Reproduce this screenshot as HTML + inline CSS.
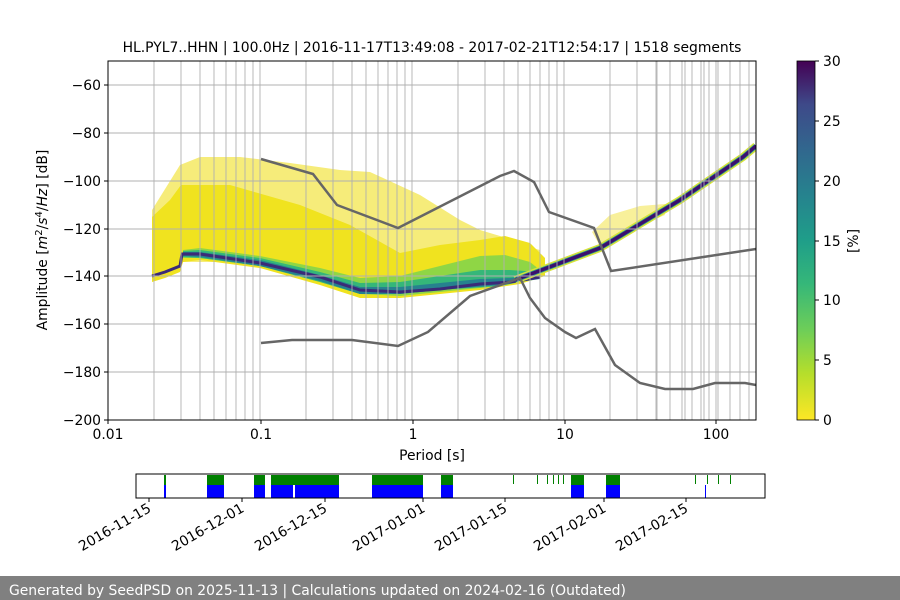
<!DOCTYPE html>
<html><head><meta charset="utf-8"><style>
body{margin:0;background:#fff;}
svg{display:block;font-family:"DejaVu Sans","Liberation Sans",sans-serif;}
</style></head><body>
<svg width="900" height="600" viewBox="0 0 900 600" xmlns="http://www.w3.org/2000/svg">
<defs>
<linearGradient id="cb" x1="0" y1="1" x2="0" y2="0">
<stop offset="0" stop-color="#fde725"/><stop offset="0.13" stop-color="#b5de2b"/><stop offset="0.25" stop-color="#6ece58"/><stop offset="0.38" stop-color="#35b779"/><stop offset="0.5" stop-color="#1f9e89"/><stop offset="0.63" stop-color="#26828e"/><stop offset="0.75" stop-color="#31688e"/><stop offset="0.88" stop-color="#3e4989"/><stop offset="1" stop-color="#440154"/>
</linearGradient>
<clipPath id="ax"><rect x="108" y="61" width="648" height="359"/></clipPath>
</defs>
<text x="432" y="52" font-size="13.9" text-anchor="middle">HL.PYL7..HHN | 100.0Hz | 2016-11-17T13:49:08 - 2017-02-21T12:54:17 | 1518 segments</text>
<g clip-path="url(#ax)">
<polygon fill="#f6ec7a" points="152,210 180,165 200,157 240,157 290,163 340,170 370,172 420,195 460,220 480,230 500,236 520,245 540,250 540,262 505,262 400,262 300,262 152,262"/>
<polygon fill="#f8f09a" points="592,232 610,215 640,206 665,204 665,215 630,230 600,246"/>
<polygon fill="#f0e31f" points="152,217 170,200 181,185 230,185 300,205 350,225 400,253 440,245 480,240 505,236 530,243 545,258 545,276 520,284 480,290 440,294 400,298 360,298 320,285 260,268 200,260 183,262 180,272 165,278 152,282"/>
<polygon fill="#8fd645" points="183,250 200,248 260,256 320,268 360,278 400,276 440,266 480,256 505,255 530,262 540,270 540,278 500,286 440,292 400,296 360,294 320,282 260,266 200,258 183,258"/>
<polygon fill="#35b779" points="183,251 200,250 260,258 320,272 360,283 400,282 440,276 480,270 510,270 540,272 540,278 500,286 440,290 400,294 360,294 320,282 260,266 200,258 183,257"/>
<polygon fill="#26828e" points="183,252 200,252 260,260 320,275 360,287 400,287 440,283 480,279 510,278 540,275 540,279 500,285 440,290 400,294 360,294 320,281 260,266 200,257 183,256"/>
<polyline fill="none" stroke="#3b2a78" stroke-width="3" points="152,276 165,272 180,266 182,254 200,254 260,263 320,277 360,290 400,292 440,289 480,284 510,282 540,277"/>
<polyline fill="none" stroke="#d8e23a" stroke-width="8" points="515,280 600,248 680,200 743,157 756,146"/>
<polyline fill="none" stroke="#2a9c8a" stroke-width="5" points="515,280 600,248 680,200 743,157 756,146"/>
<polyline fill="none" stroke="#3b0f6f" stroke-width="3.5" points="515,280 600,248 680,200 743,157 756,146"/>
</g>
<g stroke="#b0b0b0" stroke-width="0.9">
<line x1="108" x2="756" y1="85" y2="85"/><line x1="108" x2="756" y1="133" y2="133"/><line x1="108" x2="756" y1="181" y2="181"/><line x1="108" x2="756" y1="229" y2="229"/><line x1="108" x2="756" y1="276" y2="276"/><line x1="108" x2="756" y1="324" y2="324"/><line x1="108" x2="756" y1="372" y2="372"/>
<g id="dec">
<line x1="154" x2="154" y1="61" y2="420"/><line x1="181" x2="181" y1="61" y2="420"/><line x1="200" x2="200" y1="61" y2="420"/><line x1="214" x2="214" y1="61" y2="420"/><line x1="226" x2="226" y1="61" y2="420"/><line x1="236" x2="236" y1="61" y2="420"/><line x1="245" x2="245" y1="61" y2="420"/><line x1="253" x2="253" y1="61" y2="420"/><line x1="260" x2="260" y1="61" y2="420"/>
</g>
<use href="#dec" x="152"/><use href="#dec" x="304"/><use href="#dec" x="456"/>
<line x1="657" x2="657" y1="61" y2="420"/><line x1="685" x2="685" y1="61" y2="420"/><line x1="704" x2="704" y1="61" y2="420"/><line x1="718" x2="718" y1="61" y2="420"/><line x1="730" x2="730" y1="61" y2="420"/><line x1="740" x2="740" y1="61" y2="420"/><line x1="749" x2="749" y1="61" y2="420"/>
</g>
<g fill="none" stroke="#666" stroke-width="2.5" clip-path="url(#ax)">
<polyline points="261,159 313,174 337,205 398,228 500,176 514,171 534,182 549,212 594,228 611,271 756,249"/>
<polyline points="261,343 292,340 352,340 398,346 428,332 470,296 520,278 530,298 545,318 565,332 576,338 595,329 615,365 640,383 665,389 693,389 715,383 745,383 756,385"/>
</g>
<rect x="108" y="61" width="648" height="359" fill="none" stroke="#000" stroke-width="1"/>
<g stroke="#000">
<line x1="104" x2="108" y1="85" y2="85"/><line x1="104" x2="108" y1="133" y2="133"/><line x1="104" x2="108" y1="181" y2="181"/><line x1="104" x2="108" y1="229" y2="229"/><line x1="104" x2="108" y1="276" y2="276"/><line x1="104" x2="108" y1="324" y2="324"/><line x1="104" x2="108" y1="372" y2="372"/><line x1="104" x2="108" y1="420" y2="420"/>
<line x1="108" x2="108" y1="420" y2="424"/><line x1="261" x2="261" y1="420" y2="424"/><line x1="413" x2="413" y1="420" y2="424"/><line x1="565" x2="565" y1="420" y2="424"/><line x1="716" x2="716" y1="420" y2="424"/>
</g>
<g font-size="13.9" text-anchor="end">
<text x="101" y="90">−60</text><text x="101" y="138">−80</text><text x="101" y="186">−100</text><text x="101" y="234">−120</text><text x="101" y="281">−140</text><text x="101" y="329">−160</text><text x="101" y="377">−180</text><text x="101" y="425">−200</text>
</g>
<g font-size="13.9" text-anchor="middle">
<text x="108" y="439">0.01</text><text x="261" y="439">0.1</text><text x="413" y="439">1</text><text x="565" y="439">10</text><text x="716" y="439">100</text>
<text x="432" y="460">Period [s]</text>
</g>
<text transform="translate(47,240) rotate(-90)" font-size="13.9" text-anchor="middle">Amplitude [<tspan font-style="italic">m</tspan><tspan font-size="10" dy="-5">2</tspan><tspan dy="5">/</tspan><tspan font-style="italic">s</tspan><tspan font-size="10" dy="-5">4</tspan><tspan dy="5">/</tspan><tspan font-style="italic">Hz</tspan>] [dB]</text>
<rect x="797" y="61" width="18" height="359" fill="url(#cb)" stroke="#000" stroke-width="0.8"/>
<g stroke="#000"><line x1="815" x2="819" y1="61" y2="61"/><line x1="815" x2="819" y1="121" y2="121"/><line x1="815" x2="819" y1="181" y2="181"/><line x1="815" x2="819" y1="241" y2="241"/><line x1="815" x2="819" y1="300" y2="300"/><line x1="815" x2="819" y1="360" y2="360"/><line x1="815" x2="819" y1="420" y2="420"/></g>
<g font-size="13.9"><text x="823" y="66">30</text><text x="823" y="126">25</text><text x="823" y="186">20</text><text x="823" y="246">15</text><text x="823" y="305">10</text><text x="823" y="365">5</text><text x="823" y="425">0</text></g>
<text transform="translate(858,241) rotate(-90)" font-size="13.9" text-anchor="middle">[%]</text>
<g fill="#008000">
<rect x="164" y="475" width="2" height="10"/><rect x="207" y="475" width="17" height="10"/><rect x="254" y="475" width="11" height="10"/><rect x="271" y="475" width="68" height="10"/><rect x="372" y="475" width="51" height="10"/><rect x="441" y="475" width="12" height="10"/><rect x="571" y="475" width="13" height="10"/><rect x="606" y="475" width="14" height="10"/>
<rect x="513" y="475" width="1" height="9"/><rect x="537" y="475" width="1" height="9"/><rect x="547" y="475" width="1" height="9"/><rect x="553" y="475" width="1" height="9"/><rect x="558" y="475" width="1" height="9"/><rect x="563" y="475" width="1" height="9"/><rect x="695" y="475" width="1" height="9"/><rect x="707" y="475" width="1" height="9"/><rect x="718" y="475" width="1" height="9"/><rect x="730" y="475" width="1" height="9"/>
</g>
<g fill="#0000ff">
<rect x="164" y="485" width="2" height="13"/><rect x="207" y="485" width="17" height="13"/><rect x="254" y="485" width="11" height="13"/><rect x="271" y="485" width="22" height="13"/><rect x="295" y="485" width="44" height="13"/><rect x="372" y="485" width="51" height="13"/><rect x="441" y="485" width="12" height="13"/><rect x="571" y="485" width="13" height="13"/><rect x="606" y="485" width="14" height="13"/><rect x="705" y="485" width="1" height="13"/>
</g>
<rect x="136" y="474" width="629" height="24" fill="none" stroke="#000" stroke-width="1"/>
<g stroke="#000"><line x1="149" x2="149" y1="498" y2="502"/><line x1="242" x2="242" y1="498" y2="502"/><line x1="325" x2="325" y1="498" y2="502"/><line x1="423" x2="423" y1="498" y2="502"/><line x1="505" x2="505" y1="498" y2="502"/><line x1="604" x2="604" y1="498" y2="502"/><line x1="686" x2="686" y1="498" y2="502"/></g>
<g font-size="13.9" text-anchor="end">
<text transform="translate(152,511) rotate(-30)">2016-11-15</text>
<text transform="translate(245,511) rotate(-30)">2016-12-01</text>
<text transform="translate(328,511) rotate(-30)">2016-12-15</text>
<text transform="translate(426,511) rotate(-30)">2017-01-01</text>
<text transform="translate(508,511) rotate(-30)">2017-01-15</text>
<text transform="translate(607,511) rotate(-30)">2017-02-01</text>
<text transform="translate(689,511) rotate(-30)">2017-02-15</text>
</g>
<rect x="0" y="576" width="900" height="24" fill="#808080"/>
<text x="9" y="595" font-size="13.9" fill="#fff">Generated by SeedPSD on 2025-11-13 | Calculations updated on 2024-02-16 (Outdated)</text>
</svg>
</body></html>
